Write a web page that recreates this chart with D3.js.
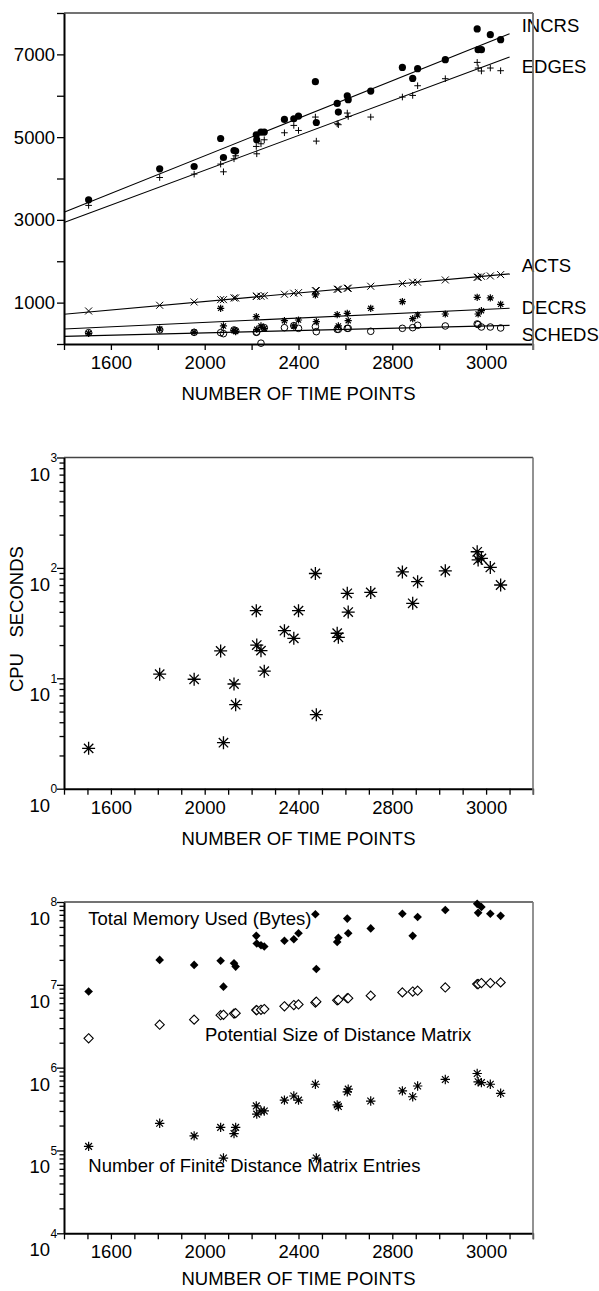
<!DOCTYPE html>
<html>
<head>
<meta charset="utf-8">
<script src="https://cdn.jsdelivr.net/npm/d3@7"></script>
<style>
  body { margin: 0; background: #fff; }
  svg text { font-family: "Liberation Sans", Arial, sans-serif; fill: #000; }
</style>
</head>
<body>
<script>
// page size
const width = 599;
const height = 1291;

// ---- data ----
const timePoints = [1505, 1808, 1955, 2068, 2080, 2125, 2132, 2220, 2222, 2240, 2254, 2340, 2380, 2400, 2472,
                    2476, 2565, 2570, 2608, 2612, 2708, 2843, 2887, 2908, 3026, 3162, 3166, 3180, 3218, 3262];

// panel 1 : counts
const incrs  = [3484, 4234, 4290, 4967, 4508, 4677, 4662, 5057, 4936, 5122, 5122, 5427, 5444, 5509, 6339,
                5354, 5814, 5606, 6000, 5904, 6114, 6685, 6419, 6654, 6872, 7614, 7113, 7113, 7476, 7355];
const edges  = [3350, 4024, 4106, 4348, 4162, 4476, 4549, 4775, 4597, 4839, 4936, 5105, 5283, 5161, 5485,
                4904, 5323, 5300, 5582, 5500, 5485, 5969, 6008, 6242, 6412, 6806, 6670, 6598, 6670, 6605];
const acts   = [798, 936, 1016, 1072, 1072, 1113, 1113, 1154, 1154, 1154, 1169, 1203, 1227, 1241, 1290,
                1290, 1323, 1323, 1348, 1348, 1396, 1459, 1492, 1492, 1548, 1613, 1613, 1637, 1645, 1677];
const decrs  = [258, 363, 282, 863, 436, 323, 300, 661, 355, 436, 379, 564, 436, 580, 1185,
                540, 709, 436, 742, 564, 863, 1024, 612, 701, 725, 1129, 725, 806, 1113, 960];
const scheds = [274, 339, 282, 274, 250, 339, 323, 282, 290, 20, 395, 395, 443, 379, 419,
                298, 355, 355, 379, 379, 307, 379, 395, 452, 436, 484, 470, 411, 411, 387];

// fitted lines of panel 1 : value at fitRange[0] and fitRange[1]
const fitRange = [1400, 3300];
const fitIncrs  = [3186, 7500];
const fitEdges  = [2935, 6935];
const fitActs   = [718, 1694];
const fitDecrs  = [363, 863];
const fitScheds = [185, 451];

// panel 2 : cpu seconds
const cpuSeconds = [2.32, 10.9, 9.8, 17.7, 2.61, 8.88, 5.77, 41, 20, 17.8, 11.6, 27, 23, 41, 89,
                    4.68, 25.6, 23.5, 58.9, 39.8, 60, 92, 47.8, 75, 94, 140, 118, 122, 101, 70];

// panel 3 : memory
const memoryUsed    = [8.3e6, 2.0e7, 1.74e7, 1.95e7, 9.5e6, 1.82e7, 1.66e7, 3.9e7, 3.16e7, 3.0e7, 2.9e7, 3.4e7, 3.55e7, 4.2e7, 7.1e7,
                       1.55e7, 3.3e7, 3.7e7, 6.3e7, 4.2e7, 4.8e7, 7.2e7, 3.9e7, 6.6e7, 8.0e7, 9.5e7, 7.4e7, 8.7e7, 7.2e7, 6.8e7];
const potentialSize = [2.26e6, 3.3e6, 3.8e6, 4.3e6, 4.35e6, 4.5e6, 4.55e6, 4.95e6, 4.95e6, 5.0e6, 5.1e6, 5.5e6, 5.7e6, 5.8e6, 6.1e6,
                       6.25e6, 6.5e6, 6.6e6, 6.9e6, 6.9e6, 7.4e6, 8.1e6, 8.3e6, 8.5e6, 9.3e6, 1.02e7, 1.02e7, 1.05e7, 1.05e7, 1.07e7];
const finiteEntries = [1.12e5, 2.13e5, 1.5e5, 1.9e5, 8.1e4, 1.6e5, 1.9e5, 3.45e5, 2.75e5, 3.0e5, 3.0e5, 4.05e5, 4.55e5, 4.05e5, 6.3e5,
                       8.1e4, 3.55e5, 3.4e5, 5.1e5, 5.5e5, 3.95e5, 5.25e5, 4.45e5, 6.0e5, 7.2e5, 8.5e5, 6.75e5, 6.6e5, 6.3e5, 4.9e5];

// axis ticks
const xDomain = [1400, 3400];
const xTickValues = [1600, 2000, 2400, 2800, 3200];
const xTickLabels = ["1600", "2000", "2400", "2800", "3000"];
const countTickValues = [1000, 3000, 5000, 7000];
const xTitle = "NUMBER OF TIME POINTS";

// ---- layout ----
const left = 64, right = 533;
const font = 18.5;

const svg = d3.select("body").append("svg")
              .attr("width", width).attr("height", height)
              .attr("viewBox", [0, 0, width, height]);

const x = d3.scaleLinear().domain(xDomain).range([left, right]);

// marker shapes as path strings around 0,0
function plusPath(s) { return `M${-s},0H${s}M0,${-s}V${s}`; }
function xPath(s) { return `M${-s},${-s}L${s},${s}M${-s},${s}L${s},${-s}`; }
function starPath(s) {
    const d = s * 0.72;
    return `M${-s},0H${s}M0,${-s}V${s}M${-d},${-d}L${d},${d}M${-d},${d}L${d},${-d}`;
}
function diamondPath(s) { return `M0,${-s}L${s},0L0,${s}L${-s},0Z`; }

// x axis + frame for one panel
function drawFrame(top, bottom, step, titleGap) {
    const g = svg.append("g");
    const ticks = d3.range(xDomain[0], xDomain[1] + 1, step);
    const xAxis = d3.axisBottom(x).tickValues(ticks).tickSize(6).tickSizeOuter(0).tickPadding(6)
                    .tickFormat(d => {
                        const i = xTickValues.indexOf(d);
                        return i < 0 ? "" : xTickLabels[i];
                    });
    g.append("g").attr("transform", `translate(0,${bottom})`).call(xAxis)
     .call(a => a.select(".domain").attr("stroke-width", 2))
     .call(a => a.selectAll(".tick line").attr("stroke-width", 1.3))
     .call(a => a.selectAll("text").attr("font-size", font).style("font-family", null));
    // top and right border
    g.append("line").attr("x1", left).attr("x2", right).attr("y1", top).attr("y2", top)
     .attr("stroke", "#444").attr("stroke-width", 1.6);
    g.append("line").attr("x1", right).attr("x2", right).attr("y1", top).attr("y2", bottom + 6)
     .attr("stroke", "#777").attr("stroke-width", 1.6);
    // x title
    g.append("text").attr("x", (left + right) / 2).attr("y", bottom + titleGap)
     .attr("text-anchor", "middle").attr("font-size", font).text(xTitle);
    return g;
}

// log y axis with "10" and the exponent set apart
function drawLogAxis(y, lo, hi) {
    const ticks = [];
    for (let e = lo; e < hi; e++) {
        for (let m = 1; m < 10; m++) ticks.push(m * Math.pow(10, e));
    }
    ticks.push(Math.pow(10, hi));
    const isMajor = d => Math.abs(Math.log10(d) - Math.round(Math.log10(d))) < 1e-9;
    const g = svg.append("g").attr("transform", `translate(${left},0)`)
                 .call(d3.axisLeft(y).tickValues(ticks).tickSize(5).tickSizeOuter(0).tickFormat(""));
    g.select(".domain").attr("stroke-width", 2);
    g.selectAll(".tick line").attr("x2", d => isMajor(d) ? -7 : -4.5).attr("stroke-width", 1.3);
    const majors = ticks.filter(isMajor);
    g.selectAll(".base").data(majors).enter().append("text")
     .attr("x", -14).attr("y", d => y(d) + 23).attr("text-anchor", "end")
     .attr("font-size", font).text("10");
    g.selectAll(".expo").data(majors).enter().append("text")
     .attr("x", -13.5).attr("y", d => y(d) + 4.3).attr("text-anchor", "start")
     .attr("font-size", 12).text(d => Math.round(Math.log10(d)));
}

// ================= panel 1 =================
const top1 = 13, bottom1 = 344;
const y1 = d3.scaleLinear().domain([0, 8000]).range([bottom1, top1]);
drawFrame(top1, bottom1, 200, 56);

const yAxis1 = d3.axisLeft(y1).tickValues(d3.range(0, 8001, 1000)).tickSize(7).tickSizeOuter(0).tickPadding(2)
                 .tickFormat(d => countTickValues.includes(d) ? d : "");
svg.append("g").attr("transform", `translate(${left},0)`).call(yAxis1)
   .call(a => a.select(".domain").attr("stroke-width", 2))
   .call(a => a.selectAll(".tick line").attr("stroke-width", 1.3))
   .call(a => a.selectAll("text").attr("font-size", font).style("font-family", null));

// fitted lines
const fits = [fitIncrs, fitEdges, fitActs, fitDecrs, fitScheds];
svg.append("g").selectAll("line").data(fits).enter().append("line")
   .attr("x1", x(fitRange[0])).attr("x2", x(fitRange[1]))
   .attr("y1", d => y1(d[0])).attr("y2", d => y1(d[1]))
   .attr("stroke", "#000").attr("stroke-width", 1.1);

const pts = (vals) => timePoints.map((t, i) => ({ t: t, v: vals[i] }));

// SCHEDS open circles
svg.append("g").selectAll("circle").data(pts(scheds)).enter().append("circle")
   .attr("cx", d => x(d.t)).attr("cy", d => y1(d.v)).attr("r", 3.3)
   .attr("fill", "none").attr("stroke", "#000").attr("stroke-width", 1);
// DECRS stars
svg.append("g").selectAll("path").data(pts(decrs)).enter().append("path")
   .attr("transform", d => `translate(${x(d.t)},${y1(d.v)})`).attr("d", starPath(3.6))
   .attr("stroke", "#000").attr("stroke-width", 1.2).attr("fill", "none");
// ACTS crosses
svg.append("g").selectAll("path").data(pts(acts)).enter().append("path")
   .attr("transform", d => `translate(${x(d.t)},${y1(d.v)})`).attr("d", xPath(3.5))
   .attr("stroke", "#000").attr("stroke-width", 1).attr("fill", "none");
// EDGES plus
svg.append("g").selectAll("path").data(pts(edges)).enter().append("path")
   .attr("transform", d => `translate(${x(d.t)},${y1(d.v)})`).attr("d", plusPath(3.3))
   .attr("stroke", "#000").attr("stroke-width", 1).attr("fill", "none");
// INCRS dots
svg.append("g").selectAll("circle").data(pts(incrs)).enter().append("circle")
   .attr("cx", d => x(d.t)).attr("cy", d => y1(d.v)).attr("r", 3.6).attr("fill", "#000");

// series names on the right
const seriesNames = ["INCRS", "EDGES", "ACTS", "DECRS", "SCHEDS"];
const namesY = [32, 73, 271.7, 314, 341];
svg.append("g").selectAll("text").data(seriesNames).enter().append("text")
   .attr("x", 521.7).attr("y", (d, i) => namesY[i]).attr("font-size", font).text(d => d);
// border over the names
svg.append("line").attr("x1", right).attr("x2", right).attr("y1", top1).attr("y2", bottom1 + 6)
   .attr("stroke", "#777").attr("stroke-width", 1.6);

// ================= panel 2 =================
const top2 = 457.5, bottom2 = 788.7;
const y2 = d3.scaleLog().domain([1, 1000]).range([bottom2, top2]);
drawFrame(top2, bottom2, 100, 56);
drawLogAxis(y2, 0, 3);

svg.append("g").selectAll("path").data(pts(cpuSeconds)).enter().append("path")
   .attr("transform", d => `translate(${x(d.t)},${y2(d.v)})`).attr("d", starPath(6.5))
   .attr("stroke", "#000").attr("stroke-width", 1.3).attr("fill", "none");

svg.append("text").attr("transform", `translate(23,${(top2 + bottom2) / 2 - 4}) rotate(-90)`)
   .attr("text-anchor", "middle").attr("font-size", font).style("white-space", "pre")
   .text("CPU   SECONDS");

// ================= panel 3 =================
const top3 = 902, bottom3 = 1233.3;
const y3 = d3.scaleLog().domain([1e4, 1e8]).range([bottom3, top3]);
drawFrame(top3, bottom3, 100, 51.5);
drawLogAxis(y3, 4, 8);

svg.append("g").selectAll("path").data(pts(finiteEntries)).enter().append("path")
   .attr("transform", d => `translate(${x(d.t)},${y3(d.v)})`).attr("d", starPath(4.7))
   .attr("stroke", "#000").attr("stroke-width", 1.2).attr("fill", "none");
svg.append("g").selectAll("path").data(pts(potentialSize)).enter().append("path")
   .attr("transform", d => `translate(${x(d.t)},${y3(d.v)})`).attr("d", diamondPath(4.6))
   .attr("stroke", "#000").attr("stroke-width", 1.1).attr("fill", "#fff");
svg.append("g").selectAll("path").data(pts(memoryUsed)).enter().append("path")
   .attr("transform", d => `translate(${x(d.t)},${y3(d.v)})`).attr("d", diamondPath(4.3))
   .attr("fill", "#000");

const memNames = ["Total Memory Used (Bytes)", "Potential Size of Distance Matrix", "Number of Finite Distance Matrix Entries"];
const memNameX = [88.3, 205, 88.3];
const memNameY = [925, 1040.7, 1172.3];
svg.append("g").selectAll("text").data(memNames).enter().append("text")
   .attr("x", (d, i) => memNameX[i]).attr("y", (d, i) => memNameY[i])
   .attr("font-size", font).text(d => d);
</script>
</body>
</html>
